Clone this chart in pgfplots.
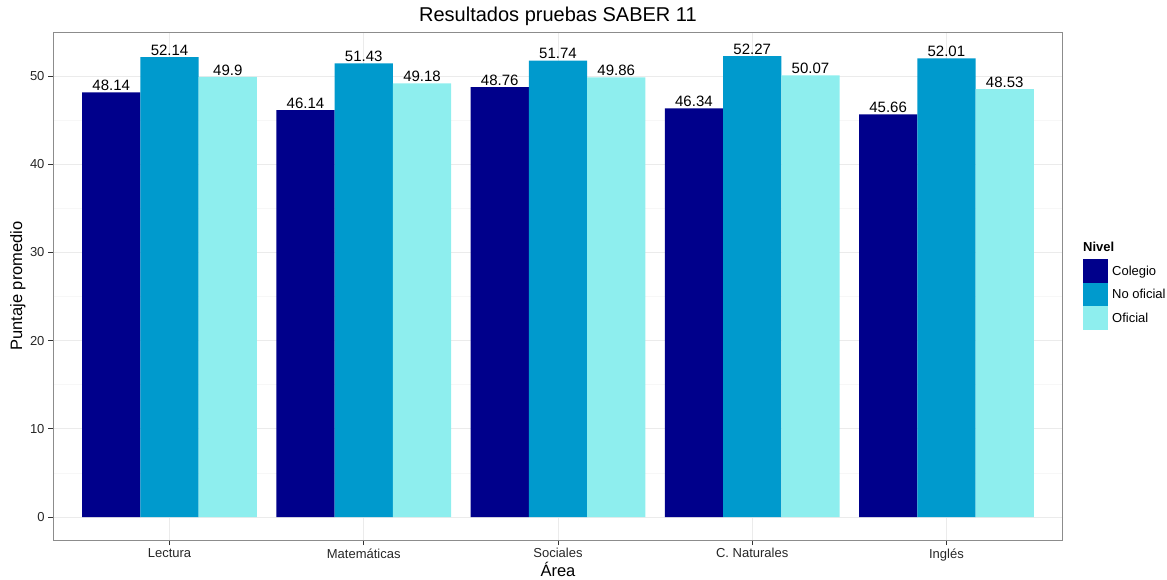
\documentclass[border=0pt]{standalone}
\usepackage{fontspec}
\setmainfont{Liberation Sans}
\usepackage{pgfplots}
\pgfplotsset{compat=1.18}

\definecolor{colegio}{HTML}{00008B}
\definecolor{nooficial}{HTML}{009ACD}
\definecolor{oficial}{HTML}{8EEEEE}
\definecolor{gridmaj}{HTML}{EBEBEB}
\definecolor{gridmin}{HTML}{F7F7F7}

\newcommand{\fs}[1]{\fontsize{#1}{1.2\dimexpr#1\relax}\selectfont}

\pgfplotsset{
  keybox/.style={legend image code/.code={\fill[##1] (0bp,-11.8bp) rectangle (25bp,11.8bp);}},
}

\begin{document}
\begin{tikzpicture}
\begin{axis}[
  at={(53bp,40bp)}, anchor=south west,
  scale only axis, width=1010bp, height=508bp,
  xmin=0.4, xmax=5.6, ymin=-2.6, ymax=55,
  clip=false,
  ybar, bar width=0.3,
  xtick={1,2,3,4,5},
  xticklabels={Lectura, Matemáticas, Sociales, C. Naturales, Inglés},
  ytick={0,10,20,30,40,50},
  minor y tick num=1,
  minor tick length=0pt,
  major tick length=5bp,
  tick align=outside, tick pos=left,
  tick style={black!80, line width=0.8bp},
  xmajorgrids, ymajorgrids, yminorgrids,
  major grid style={gridmaj, line width=0.8bp},
  minor grid style={gridmin, line width=0.6bp},
  axis line style={black!45, line width=0.9bp},
  /pgf/number format/assume math mode=true,
  tick label style={font=\fs{13bp}, text=black!85},
  title={Resultados pruebas SABER 11},
  title style={font=\fs{20bp}, at={(axis description cs:0.5,1)}, anchor=base, yshift=4.5bp},
  xlabel={Área},
  xlabel style={font=\fs{16.5bp}, at={(axis description cs:0.5,-0.057)}, anchor=center},
  ylabel={Puntaje promedio},
  ylabel style={font=\fs{16.5bp}, at={(axis description cs:-0.0347,0.5)}, anchor=center, rotate=0},
  nodes near coords,
  nodes near coords style={font=\fs{15bp}, anchor=south, inner sep=1.5bp, text=black},
  legend style={at={(axis description cs:1.0198,0.553)}, anchor=north west,
    draw=none, fill=none, inner sep=0pt, row sep=0pt, column sep=4bp,
    nodes={inner sep=0pt, font=\fs{13bp}}},
  legend cell align=left,
]
\addplot[fill=colegio, draw=none, bar shift=-0.3, keybox] coordinates {
  (1,48.14) (2,46.14) (3,48.76) (4,46.34) (5,45.66)};
\addlegendentry{Colegio}
\addplot[fill=nooficial, draw=none, bar shift=0, keybox] coordinates {
  (1,52.14) (2,51.43) (3,51.74) (4,52.27) (5,52.01)};
\addlegendentry{No oficial}
\addplot[fill=oficial, draw=none, bar shift=0.3, keybox] coordinates {
  (1,49.9) (2,49.18) (3,49.86) (4,50.07) (5,48.53)};
\addlegendentry{Oficial}
\node[anchor=base west, font=\fs{13bp}\bfseries, inner sep=0pt]
  at (axis description cs:1.0198,0.567) {Nivel};
\end{axis}
\pgfresetboundingbox
\path[use as bounding box] (0,0) rectangle (1167bp,580bp);
\end{tikzpicture}
\end{document}
